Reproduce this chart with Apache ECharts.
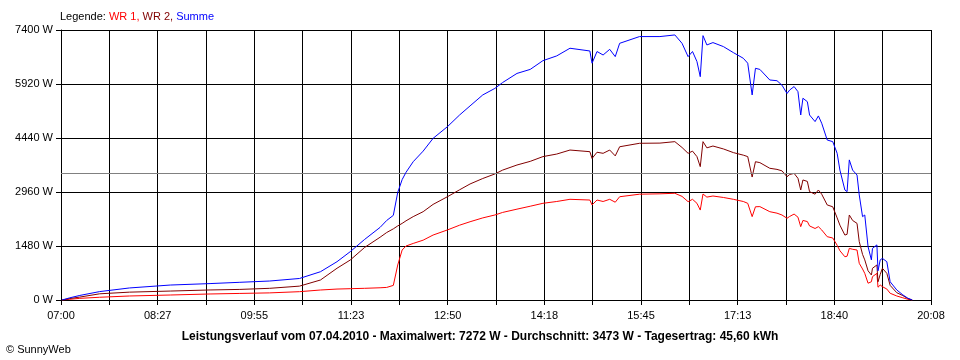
<!DOCTYPE html>
<html>
<head>
<meta charset="utf-8">
<script src="https://cdn.jsdelivr.net/npm/echarts@6/dist/echarts.min.js"></script>
<style>html,body{margin:0;padding:0;background:#fff}#c{width:960px;height:360px}</style>
</head>
<body>
<div id="c"></div>
<script>
// minutes since 07:00
const times = [1, 8, 17, 35, 62, 99, 135, 162, 189, 216, 235, 250, 262, 275, 289, 295, 301, 305, 309, 312.5, 319, 328, 337, 350, 361, 370.5, 382, 393, 400, 413, 425, 436.5, 449, 461, 479, 481, 485.5, 491, 497, 502, 506, 524, 542.5, 556, 562.5, 568, 572, 576, 579, 581.5, 585, 590.5, 600, 609, 618, 622, 626, 629, 633, 642, 648.5, 653, 657.6, 660, 664, 667.5, 670, 672, 676, 678, 683, 686, 689, 694, 699, 703, 705.5, 710, 712, 714, 717, 721, 723, 726, 728, 731, 734, 735, 739, 740, 742, 744, 748, 751, 757, 762.5, 767, 771];
const wr1 = [0, 20, 45, 75, 110, 137, 165, 180, 195, 228, 274, 300, 310, 320, 335, 345, 400, 960, 1370, 1480, 1550, 1640, 1780, 1920, 2050, 2145, 2250, 2330, 2400, 2490, 2570, 2650, 2700, 2760, 2740, 2605, 2740, 2700, 2760, 2680, 2830, 2900, 2910, 2925, 2840, 2695, 2760, 2650, 2465, 2905, 2820, 2850, 2810, 2760, 2700, 2650, 2285, 2555, 2560, 2420, 2380, 2330, 2240, 2290, 2355, 2270, 2010, 2180, 2150, 2030, 1960, 2010, 1920, 1735, 1700, 1500, 1350, 1185, 1200, 1415, 1390, 1370, 1005, 850, 730, 460, 500, 640, 730, 350, 410, 365, 300, 185, 110, 60, 20, 0];
const wr2 = [0, 40, 80, 170, 215, 245, 275, 290, 320, 380, 548, 870, 1096, 1440, 1720, 1850, 1950, 2030, 2100, 2170, 2285, 2420, 2620, 2830, 3020, 3180, 3330, 3455, 3560, 3700, 3800, 3930, 4000, 4110, 4065, 3880, 4050, 4020, 4110, 3950, 4200, 4295, 4300, 4340, 4180, 4020, 4080, 3930, 3655, 4340, 4170, 4220, 4140, 4040, 3970, 3930, 3370, 3790, 3765, 3610, 3580, 3540, 3380, 3440, 3470, 3335, 3015, 3290, 3250, 2970, 2900, 3015, 2900, 2605, 2555, 2250, 2050, 1780, 1800, 2330, 2180, 2100, 1600, 1250, 1100, 800, 685, 870, 960, 500, 700, 870, 730, 400, 200, 120, 40, 0];
const summe = [0, 60, 125, 230, 330, 410, 450, 485, 520, 590, 775, 1050, 1325, 1660, 1990, 2180, 2320, 2950, 3300, 3500, 3790, 4080, 4430, 4750, 5070, 5320, 5620, 5800, 5960, 6210, 6320, 6560, 6690, 6900, 6825, 6490, 6810, 6715, 6870, 6670, 7035, 7220, 7220, 7265, 7035, 6670, 6810, 6535, 6120, 7245, 6990, 7055, 6945, 6780, 6625, 6490, 5620, 6350, 6320, 6030, 6010, 5890, 5660, 5755, 5850, 5710, 5070, 5530, 5435, 5070, 4890, 5045, 4845, 4385, 4340, 4020, 3560, 3015, 2970, 3840, 3560, 3425, 2880, 2285, 2330, 1460, 1100, 1415, 1510, 800, 1100, 1140, 1050, 500, 275, 140, 50, 0];
const tickLabels = ['07:00', '08:27', '09:55', '11:23', '12:50', '14:18', '15:45', '17:13', '18:40', '20:08'];
const yMax = 7400, yStep = 1480;
const xMax = 788, xDivisions = 18;
const average = 3473;
const seriesNames = ['WR 1', 'WR 2', 'Summe'];
const colors = ['#ff0000', '#800000', '#0000ff'];
const footer = 'Leistungsverlauf vom 07.04.2010 - Maximalwert: 7272 W - Durchschnitt: 3473 W - Tagesertrag: 45,60 kWh';

const xStep = xMax / xDivisions;
const pairs = arr => arr.map((v, i) => [times[i], v]);
const F = 'Liberation Sans, Arial, sans-serif';
const rs = c => ({color: c, fontFamily: F, fontSize: 11, fontWeight: 'normal'});

const chart = echarts.init(document.getElementById('c'), null, {renderer: 'canvas'});
chart.setOption({
  animation: false,
  backgroundColor: '#ffffff',
  title: [{
    left: 60, top: 11, padding: 0,
    text: '{k|Legende: }{a|' + seriesNames[0] + ', }{b|' + seriesNames[1] + ', }{c|' + seriesNames[2] + '}',
    textStyle: {fontWeight: 'normal', fontSize: 11, fontFamily: F,
      rich: {k: rs('#000'), a: rs(colors[0]), b: rs(colors[1]), c: rs(colors[2])}}
  }, {
    left: 'center', top: 331, padding: 0,
    text: footer,
    textStyle: {color: '#000', fontFamily: F, fontSize: 12, fontWeight: 'bold'}
  }, {
    left: 6, top: 344, padding: 0,
    text: '\u00a9 SunnyWeb',
    textStyle: {color: '#000', fontFamily: F, fontSize: 11, fontWeight: 'normal'}
  }],
  grid: {left: 61, right: 29, top: 30, bottom: 60, containLabel: false},
  xAxis: {
    type: 'value', min: 0, max: xMax, interval: xStep,
    axisLine: {show: true, lineStyle: {color: '#000', width: 1}},
    axisTick: {show: true, length: 5, lineStyle: {color: '#000'}},
    splitLine: {show: true, lineStyle: {color: '#000', width: 1}},
    axisLabel: {
      color: '#000', fontFamily: F, fontSize: 11, margin: 10,
      formatter: v => {
        const idx = Math.round(v / xStep);
        return idx % 2 === 0 ? (tickLabels[idx / 2] || '') : '';
      }
    }
  },
  yAxis: {
    type: 'value', min: 0, max: yMax, interval: yStep,
    axisLine: {show: true, lineStyle: {color: '#000', width: 1}},
    axisTick: {show: true, length: 5, lineStyle: {color: '#000'}},
    splitLine: {show: true, lineStyle: {color: '#000', width: 1}},
    axisLabel: {color: '#000', fontFamily: F, fontSize: 11, margin: 8, formatter: v => String(Math.round(v)) + ' W'}
  },
  series: [
    {name: seriesNames[0], type: 'line', data: pairs(wr1), showSymbol: false, lineStyle: {color: colors[0], width: 1}, itemStyle: {color: colors[0]}, z: 3},
    {name: seriesNames[1], type: 'line', data: pairs(wr2), showSymbol: false, lineStyle: {color: colors[1], width: 1}, itemStyle: {color: colors[1]}, z: 4},
    {name: seriesNames[2], type: 'line', data: pairs(summe), showSymbol: false, lineStyle: {color: colors[2], width: 1}, itemStyle: {color: colors[2]}, z: 5,
     markLine: {silent: true, symbol: 'none', label: {show: false}, lineStyle: {color: '#808080', type: 'solid', width: 1}, data: [{yAxis: average}]}}
  ]
});
</script>
</body>
</html>
